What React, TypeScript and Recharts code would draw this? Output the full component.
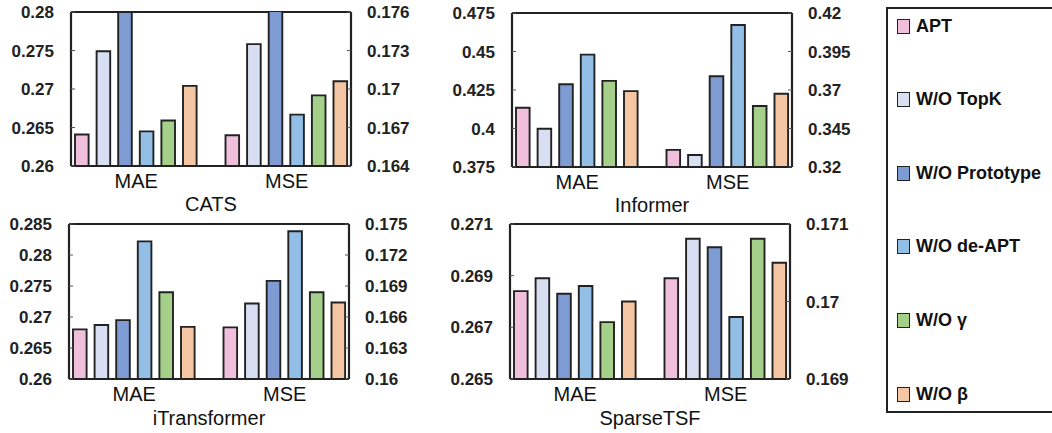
import { Bar, BarChart, ReferenceLine, XAxis, YAxis } from 'recharts'

const metrics = ['MAE', 'MSE']
const variants = ['APT', 'W/O TopK', 'W/O Prototype', 'W/O de-APT', 'W/O γ', 'W/O β']
const colors = ['#efbfdc', '#d9dff3', '#7e9bd3', '#93bee6', '#a4d08a', '#f5c6a3']

// CATS (W/O Prototype runs past the top of both axes)
const catsMae = [0.2641, 0.2749, 0.2835, 0.2645, 0.2659, 0.2704]
const catsMse = [0.1664, 0.1735, 0.1785, 0.168, 0.1695, 0.1706]
const catsMaeTicks = [0.26, 0.265, 0.27, 0.275, 0.28]
const catsMseTicks = [0.164, 0.167, 0.17, 0.173, 0.176]

// Informer
const informerMae = [0.4135, 0.3998, 0.4287, 0.448, 0.4309, 0.4243]
const informerMse = [0.3311, 0.3278, 0.3789, 0.4122, 0.3596, 0.3676]
const informerMaeTicks = [0.375, 0.4, 0.425, 0.45, 0.475]
const informerMseTicks = [0.32, 0.345, 0.37, 0.395, 0.42]

// iTransformer
const itransMae = [0.268, 0.2687, 0.2695, 0.2822, 0.274, 0.2684]
const itransMse = [0.165, 0.1673, 0.1695, 0.1743, 0.1684, 0.1674]
const itransMaeTicks = [0.26, 0.265, 0.27, 0.275, 0.28, 0.285]
const itransMseTicks = [0.16, 0.163, 0.166, 0.169, 0.172, 0.175]

// SparseTSF
const sparseMae = [0.2684, 0.2689, 0.2683, 0.2686, 0.2672, 0.268]
const sparseMse = [0.1703, 0.17081, 0.1707, 0.1698, 0.17081, 0.1705]
const sparseMaeTicks = [0.265, 0.267, 0.269, 0.271]
const sparseMseTicks = [0.169, 0.17, 0.171]

const font = '"Liberation Sans", Arial, sans-serif'
const ink = '#222'
const PLOT_W = 280

type Row = Record<string, string | number>

const toRow = (metric: string, values?: number[]): Row => {
  const row: Row = { metric }
  if (values) values.forEach((v, i) => { row[`s${i}`] = v })
  return row
}

type PanelProps = {
  title: string
  x: number
  y: number
  plotHeight: number
  mae: number[]
  mse: number[]
  maeTicks: number[]
  mseTicks: number[]
  titleOffset: number
}

const yTick = { fontSize: 17, fontWeight: 700, fill: ink, fontFamily: font }

const Panel = ({ title, x, y, plotHeight, mae, mse, maeTicks, mseTicks, titleOffset }: PanelProps) => {
  const maeData = metrics.map((m) => toRow(m, m === 'MAE' ? mae : undefined))
  const mseData = metrics.map((m) => toRow(m, m === 'MSE' ? mse : undefined))
  const width = PLOT_W + 140
  const height = plotHeight + 60
  const bars = (axis: string) =>
    variants.map((name, i) => (
      <Bar
        key={name}
        yAxisId={axis}
        dataKey={`s${i}`}
        name={name}
        fill={colors[i]}
        stroke={ink}
        strokeWidth={1.9}
        isAnimationActive={false}
      />
    ))
  const pos = { position: 'absolute' as const, left: x, top: y }

  return (
    <>
      <div style={pos}>
        <BarChart width={width} height={height} data={maeData} barSize={13.6} barGap={8}
          margin={{ top: 10, right: 70, bottom: 20, left: 10 }}>
          <XAxis dataKey="metric" height={30} padding={{ left: -10, right: -11 }}
            axisLine={{ stroke: ink, strokeWidth: 2.2 }} tickLine={false} tickSize={0} tickMargin={8}
            tick={{ fontSize: 20, fill: '#111', fontFamily: font }}
            label={{ value: title, position: 'bottom', offset: titleOffset, fontSize: 20, fill: '#111', fontFamily: font }} />
          <YAxis yAxisId="mae" orientation="left" width={60} type="number"
            domain={[maeTicks[0], maeTicks[maeTicks.length - 1]]} ticks={maeTicks} interval={0}
            allowDataOverflow axisLine={{ stroke: ink, strokeWidth: 2.2 }}
            tickLine={{ stroke: '#555' }} tickSize={-4} tickMargin={21} tick={yTick} />
          <ReferenceLine yAxisId="mae" y={maeTicks[maeTicks.length - 1]} stroke={ink} strokeWidth={2.2} />
          {bars('mae')}
        </BarChart>
      </div>
      <div style={pos}>
        <BarChart width={width} height={height} data={mseData} barSize={13.6} barGap={8}
          margin={{ top: 10, right: 10, bottom: 20, left: 70 }}>
          <XAxis dataKey="metric" height={30} padding={{ left: -10, right: -11 }}
            axisLine={false} tickLine={false} tick={false} />
          <YAxis yAxisId="mse" orientation="right" width={60} type="number"
            domain={[mseTicks[0], mseTicks[mseTicks.length - 1]]} ticks={mseTicks} interval={0}
            allowDataOverflow axisLine={{ stroke: ink, strokeWidth: 2.2 }}
            tickLine={{ stroke: '#555' }} tickSize={-4} tickMargin={20} tick={yTick} />
          {bars('mse')}
        </BarChart>
      </div>
    </>
  )
}

const LegendBox = () => (
  <div style={{ position: 'absolute', left: 886, top: 7, width: 190, height: 402, border: `2px solid ${ink}`, background: '#fff' }}>
    {variants.map((name, i) => (
      <div key={name} style={{ position: 'absolute', left: 9, top: 9 + i * 73.6, height: 16, display: 'flex', alignItems: 'center', whiteSpace: 'nowrap' }}>
        <span style={{ width: 11, height: 13, background: colors[i], border: `1.5px solid ${ink}`, marginRight: 6 }} />
        <span style={{ fontFamily: font, fontWeight: 700, fontSize: 18, color: '#111' }}>{name}</span>
      </div>
    ))}
  </div>
)

export default function App() {
  return (
    <div style={{ position: 'absolute', left: 0, top: 0, width: 1052, height: 433, overflow: 'hidden', background: '#fff' }}>
      <Panel title="CATS" x={1} y={2} plotHeight={154} mae={catsMae} mse={catsMse}
        maeTicks={catsMaeTicks} mseTicks={catsMseTicks} titleOffset={1} />
      <Panel title="Informer" x={442} y={3} plotHeight={154} mae={informerMae} mse={informerMse}
        maeTicks={informerMaeTicks} mseTicks={informerMseTicks} titleOffset={1} />
      <Panel title="iTransformer" x={-1} y={214} plotHeight={155} mae={itransMae} mse={itransMse}
        maeTicks={itransMaeTicks} mseTicks={itransMseTicks} titleOffset={2} />
      <Panel title="SparseTSF" x={440} y={214} plotHeight={155} mae={sparseMae} mse={sparseMse}
        maeTicks={sparseMaeTicks} mseTicks={sparseMseTicks} titleOffset={2} />
      <LegendBox />
    </div>
  )
}
